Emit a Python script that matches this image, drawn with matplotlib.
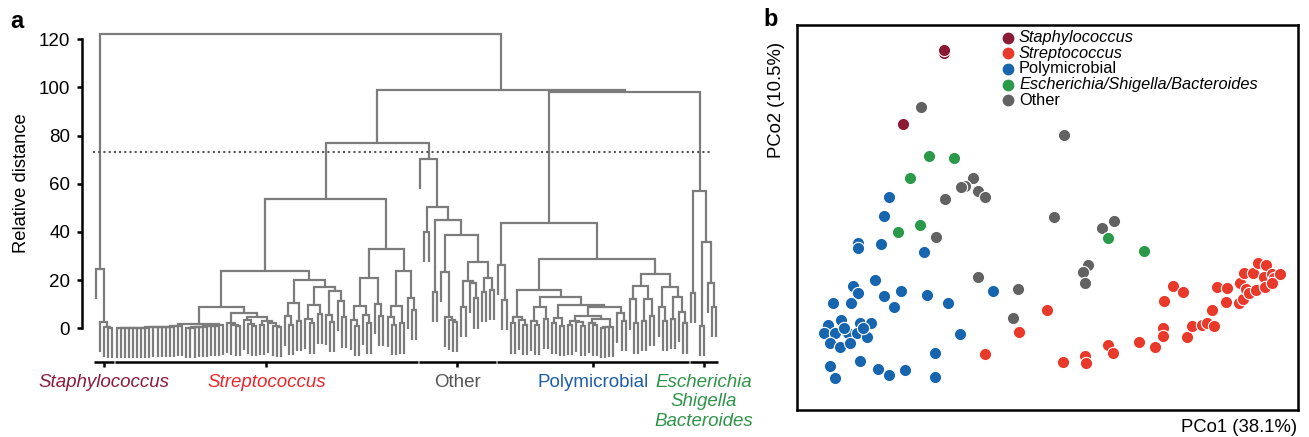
import matplotlib
matplotlib.use('Agg')
import matplotlib.pyplot as plt
import numpy as np

plt.rcParams['font.family'] = ['Liberation Sans', 'DejaVu Sans']

W, H = 1309, 437
L = None  # a leaf of the dendrogram


def comb(heights):
    node = (heights[0], L, L)
    for h in heights[1:]:
        node = (h, node, L)
    return node


# ---------------- panel a: dendrogram data (merge heights) ----------------
staph_tree = (24.5, L, (2.5, L, (0.7, L, (0.3, L, L))))

strep_flat_a = [0.0, 0.0, 0.1, 0.1, 0.2, 0.2, 0.3, 0.3, 0.4, 0.4, 0.5, 0.5, 0.6, 0.7, 0.8, 1.0]
strep_flat_b = [0.2, 0.3, 0.4, 0.5, 0.6, 0.8, 1.0, 1.1, 1.4]

strep_tree = (53.6,
              (23.9,
               (8.7,
                (1.8, comb(strep_flat_a), comb(strep_flat_b)),
                (6.2, (2.3, L, (1.5, L, (0.8, L, L))),
                      (4.8, (3.4, L, (1.8, L, (1.0, L, L))),
                            (3.2, (1.5, L, L), (2.2, L, (1.0, L, (0.5, L, L))))))),
               (20.0, (10.4, (5.0, L, (1.5, L, L)), (3.0, L, L)),
                      (17.3, (9.5, (4.0, L, (2.0, L, L)), (6.0, L, L)),
                             (15.6, (5.5, L, (2.5, L, L)), (11.5, L, (4.5, L, L)))))),
              (32.8,
               (21.0, (9.3, (3.4, L, (1.0, L, L)), (5.5, L, (2.0, L, L))),
                      (10.1, L, (5.1, L, L))),
               (23.9, (9.3, (4.8, L, (1.5, L, L)), (2.0, L, L)),
                      (12.4, L, (7.6, L, L)))))

other_tree = (70.2, L,
              (50.5, (40.1, L, L),
                     (45.0, (15.2, L, L),
                            (38.7, (23.5, L, (4.8, L, (3.5, L, (2.5, L, L)))),
                                   (27.7, (19.8, (9.0, L, L), (18.7, L, (12.4, L, L))),
                                          (20.8, (15.2, L, L), (15.9, L, L)))))))

poly_flat = [0.2, 0.4, 0.6]
poly_tree = (43.9,
             (26.3, L, (11.7, L, L)),
             (28.9,
              (15.9,
               (4.8, (2.0, L, L), (3.5, L, (1.5, L, L))),
               (12.9,
                (8.7, (3.0, L, (1.5, L, L)), (4.0, L, L)),
                (9.7,
                 (4.1, (2.0, L, L), (1.0, L, L)),
                 (8.7,
                  (5.1, (3.0, (1.5, L, L), (2.5, L, (1.0, L, L))),
                        (4.0, (2.2, L, (1.2, L, L)), comb(poly_flat))),
                  (6.2, L, (3.0, L, L)))))),
              (22.5,
               (17.6, (12.0, L, (2.0, L, L)), (12.0, (3.0, L, L), (5.0, L, L))),
               (17.0, (8.7, L, (3.0, L, L)), (13.1, (4.0, L, L), (6.8, L, (2.0, L, L)))))))

esb_tree = (57.1, (14.5, L, L), (35.7, (1.0, L, L), (18.7, L, (8.7, L, L))))

root_heights = [122.0, 99.0, 77.0, 98.0]   # root, (strep+other)+(poly+esb), strep+other, poly+esb
cut_height = 73.3
hang = 12.5

cluster_trees = [staph_tree, strep_tree, other_tree, poly_tree, esb_tree]
cluster_names = ['Staphylococcus', 'Streptococcus', 'Other', 'Polymicrobial',
                 'Escherichia\nShigella\nBacteroides']
cluster_colors = ['#8b1a3a', '#e8262b', '#555555', '#1f5ea8', '#2e9448']
cluster_italic = [True, True, False, False, True]

# ---------------- panel b: PCoA data ----------------
staph_x = [-0.106, -0.106, -0.147]
staph_y = [0.167, 0.170, 0.096]

strep_x = [-0.003, -0.031, -0.065, 0.013, 0.035, 0.036, 0.058, 0.063, 0.089, 0.105,
           0.113, 0.113, 0.114, 0.123, 0.133, 0.137, 0.142, 0.152, 0.157, 0.164,
           0.167, 0.177, 0.176, 0.162, 0.189, 0.193, 0.190, 0.196, 0.199, 0.194,
           0.203, 0.208, 0.216, 0.214, 0.206, 0.215, 0.222, 0.224, 0.230, 0.222]
strep_y = [-0.090, -0.112, -0.134, -0.142, -0.136, -0.143, -0.125, -0.133, -0.122, -0.127,
           -0.108, -0.116, -0.081, -0.066, -0.072, -0.117, -0.106, -0.105, -0.103, -0.106,
           -0.067, -0.068, -0.082, -0.090, -0.083, -0.079, -0.063, -0.069, -0.073, -0.053,
           -0.053, -0.043, -0.045, -0.057, -0.070, -0.067, -0.054, -0.058, -0.054, -0.063]

poly_x = [-0.161, -0.166, -0.192, -0.192, -0.169, -0.126, -0.175, -0.197, -0.192, -0.166,
          -0.149, -0.123, -0.217, -0.199, -0.156, -0.102, -0.057, -0.222, -0.209, -0.190,
          -0.179, -0.226, -0.215, -0.202, -0.193, -0.183, -0.220, -0.210, -0.200, -0.090,
          -0.115, -0.220, -0.190, -0.215, -0.172, -0.161, -0.145, -0.115, -0.187, -0.206]
poly_y = [0.023, 0.004, -0.023, -0.028, -0.024, -0.032, -0.060, -0.066, -0.073, -0.076,
          -0.071, -0.075, -0.083, -0.083, -0.087, -0.083, -0.071, -0.105, -0.100, -0.103,
          -0.103, -0.113, -0.113, -0.113, -0.113, -0.117, -0.123, -0.127, -0.123, -0.114,
          -0.133, -0.146, -0.141, -0.158, -0.149, -0.155, -0.150, -0.157, -0.108, -0.108]

esb_x = [-0.121, -0.096, -0.140, -0.130, -0.152, 0.058, 0.094]
esb_y = [0.064, 0.062, 0.042, -0.005, -0.012, -0.018, -0.031]

other_x = [-0.129, 0.014, -0.077, -0.085, -0.089, -0.072, -0.065, -0.105, 0.004, 0.052,
           0.064, -0.114, 0.038, 0.033, 0.035, -0.072, -0.032, -0.037]
other_y = [0.113, 0.085, 0.042, 0.034, 0.033, 0.029, 0.023, 0.021, 0.003, -0.008,
           -0.001, -0.017, -0.045, -0.052, -0.063, -0.057, -0.069, -0.098]

legend_labels = ['Staphylococcus', 'Streptococcus', 'Polymicrobial',
                 'Escherichia/Shigella/Bacteroides', 'Other']
legend_colors = ['#8b1a34', '#e8392b', '#1765af', '#2a9a4a', '#626262']
legend_italic = [True, True, False, True, False]

# ======================= figure =======================
fig = plt.figure(figsize=(W / 100, H / 100), dpi=100)


def fx(px):
    return px / W


def fy(py):
    return 1 - py / H


# ---------- panel a ----------
leaf0_px, leafN_px = 96.0, 716.0


def count_leaves(node):
    if node is None:
        return 1
    return count_leaves(node[1]) + count_leaves(node[2])


n_total = sum(count_leaves(t) for t in cluster_trees)
px_per_leaf = (leafN_px - leaf0_px) / (n_total - 1)
px_per_unit = (328.3 - 39.3) / 120.0
ax_left_px, ax_right_px = 82.0, 725.0
y_lo, y_hi = -16.0, 125.0
ax_top_px = 328.3 - y_hi * px_per_unit
ax_bot_px = 328.3 - y_lo * px_per_unit

axa = fig.add_axes([fx(ax_left_px), fy(ax_bot_px), fx(ax_right_px) - fx(ax_left_px),
                    fy(ax_top_px) - fy(ax_bot_px)])
axa.set_xlim((ax_left_px - leaf0_px) / px_per_leaf, (ax_right_px - leaf0_px) / px_per_leaf)
axa.set_ylim(y_lo, y_hi)

full_tree = (root_heights[0], staph_tree,
             (root_heights[1], (root_heights[2], strep_tree, other_tree),
              (root_heights[3], poly_tree, esb_tree)))

xs, ys = [], []
counter = [0]


def layout(node):
    if node is None:
        x = counter[0]
        counter[0] += 1
        return x, None
    h, a, b = node
    xa, ha = layout(a)
    xb, hb = layout(b)
    ya = ha if ha is not None else h - hang
    yb = hb if hb is not None else h - hang
    xs.extend([xa, xa, xb, xb, np.nan])
    ys.extend([ya, h, h, yb, np.nan])
    return (xa + xb) / 2.0, h


layout(full_tree)
axa.plot(xs, ys, color='#7c7c7c', lw=1.6, solid_joinstyle='miter',
         solid_capstyle='butt', clip_on=False)

# cut line
axa.plot([-0.75, n_total - 2], [cut_height, cut_height], color='#555555', lw=1.5,
         linestyle=(0, (1, 1.5)), clip_on=False)

# cluster bars and labels
start = 0
for tree, name, col, ital in zip(cluster_trees, cluster_names, cluster_colors, cluster_italic):
    n = count_leaves(tree)
    first, last = start, start + n - 1
    mid = (first + last) / 2.0
    axa.plot([first - 0.4, last + 0.4], [-13.9, -13.9], color='black', lw=1.8,
             solid_capstyle='butt', clip_on=False)
    axa.plot([mid, mid], [-13.9, -16.0], color='black', lw=1.8,
             solid_capstyle='butt', clip_on=False)
    if '\n' in name:
        axa.text(mid, -30.6, name, color=col, fontsize=13.5, style='italic' if ital else 'normal',
                 ha='center', va='center', linespacing=1.2, clip_on=False)
    else:
        axa.text(mid, -22.3, name, color=col, fontsize=13.5, style='italic' if ital else 'normal',
                 ha='center', va='center', clip_on=False)
    start += n

for s in ['top', 'right', 'bottom']:
    axa.spines[s].set_visible(False)
axa.spines['left'].set_linewidth(1.8)
axa.spines['left'].set_bounds(0, 120)
axa.set_yticks(np.arange(0, 121, 20))
axa.set_xticks([])
axa.tick_params(axis='y', length=3.5, width=1.8, labelsize=13.5, pad=5)

fig.text(fx(21.5), fy(183), 'Relative distance', rotation=90, ha='center', va='center',
         fontsize=13.2)
fig.text(fx(17), fy(21), 'a', fontsize=17, fontweight='bold', ha='center', va='center')

# ---------- panel b ----------
bx0, bx1, by0, by1 = 797.0, 1298.0, 25.0, 410.0
axb = fig.add_axes([fx(bx0), fy(by1), fx(bx1) - fx(bx0), fy(by0) - fy(by1)])
axb.set_xlim((bx0 - 1050) / 1000, (bx1 - 1050) / 1000)
axb.set_ylim((220 - by1) / 1000, (220 - by0) / 1000)
axb.set_xticks([])
axb.set_yticks([])
for s in axb.spines.values():
    s.set_linewidth(1.8)

groups = [(poly_x, poly_y, legend_colors[2]),
          (other_x, other_y, legend_colors[4]),
          (esb_x, esb_y, legend_colors[3]),
          (strep_x, strep_y, legend_colors[1]),
          (staph_x, staph_y, legend_colors[0])]
for gx, gy, col in groups:
    axb.scatter(gx, gy, s=78, color=col, edgecolors='white', linewidths=0.8, zorder=3)

for i, (lab, col, ital) in enumerate(zip(legend_labels, legend_colors, legend_italic)):
    py = 37.5 + 15.7 * i
    axb.scatter([(1008 - bx0) / (bx1 - bx0)], [(by1 - py) / (by1 - by0)], s=72, color=col,
                transform=axb.transAxes, clip_on=False, zorder=4, linewidths=0)
    axb.text((1019 - bx0) / (bx1 - bx0), (by1 - py) / (by1 - by0), lab, fontsize=11.8,
             style='italic' if ital else 'normal', ha='left', va='center',
             transform=axb.transAxes)

fig.text(fx(776), fy(42), 'PCo2 (10.5%)', rotation=90, ha='center', va='top', fontsize=13.3)
fig.text(fx(1297), fy(428), 'PCo1 (38.1%)', ha='right', va='center', fontsize=13.3)
fig.text(fx(771), fy(20), 'b', fontsize=17, fontweight='bold', ha='center', va='center')

fig.savefig('out.png', dpi=100)
